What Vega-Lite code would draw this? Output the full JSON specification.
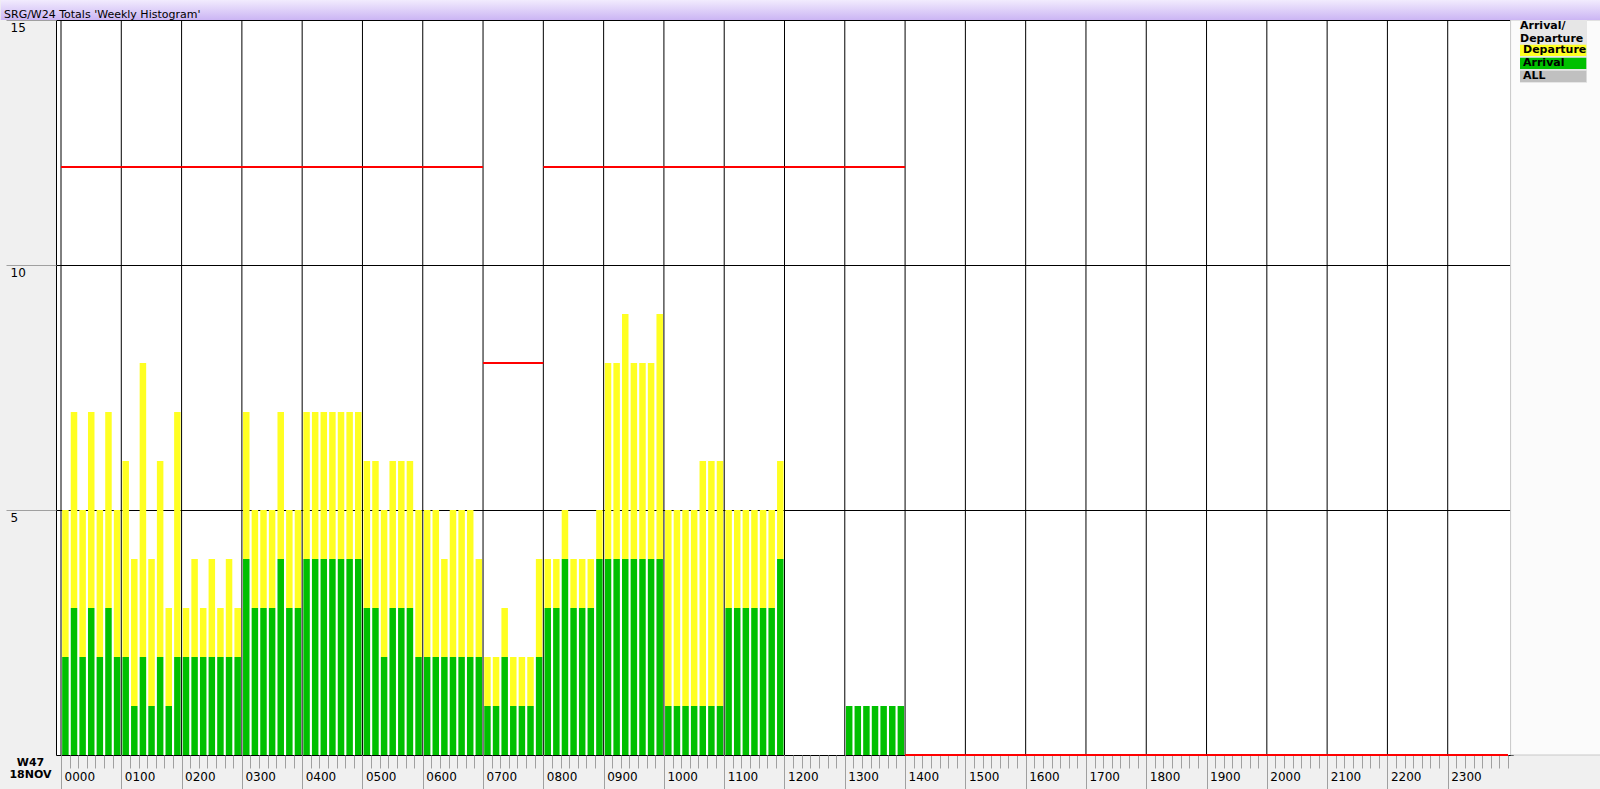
{
  "$schema": "https://vega.github.io/schema/vega-lite/v6.json",
  "width": 1457,
  "height": 735,
  "autosize": {"type": "none"},
  "padding": {"left": 56, "right": 87, "top": 20, "bottom": 34},
  "background": "#f0f0f0",
  "view": {"fill": "#ffffff", "stroke": "#000000", "strokeWidth": 1},
  "title": {
    "text": "SRG/W24 Totals 'Weekly Histogram'",
    "anchor": "start",
    "frame": "group",
    "orient": "top",
    "offset": 0,
    "dx": -52,
    "dy": 30,
    "baseline": "alphabetic",
    "font": "DejaVu Sans",
    "fontSize": 11,
    "fontWeight": "normal",
    "color": "#000000"
  },
  "config": {"font": "DejaVu Sans"},
  "datasets": {
    "bars": [
      {"slot": 0, "Arrival": 2, "Departure": 3},
      {"slot": 1, "Arrival": 3, "Departure": 4},
      {"slot": 2, "Arrival": 2, "Departure": 3},
      {"slot": 3, "Arrival": 3, "Departure": 4},
      {"slot": 4, "Arrival": 2, "Departure": 3},
      {"slot": 5, "Arrival": 3, "Departure": 4},
      {"slot": 6, "Arrival": 2, "Departure": 3},
      {"slot": 7, "Arrival": 2, "Departure": 4},
      {"slot": 8, "Arrival": 1, "Departure": 3},
      {"slot": 9, "Arrival": 2, "Departure": 6},
      {"slot": 10, "Arrival": 1, "Departure": 3},
      {"slot": 11, "Arrival": 2, "Departure": 4},
      {"slot": 12, "Arrival": 1, "Departure": 2},
      {"slot": 13, "Arrival": 2, "Departure": 5},
      {"slot": 14, "Arrival": 2, "Departure": 1},
      {"slot": 15, "Arrival": 2, "Departure": 2},
      {"slot": 16, "Arrival": 2, "Departure": 1},
      {"slot": 17, "Arrival": 2, "Departure": 2},
      {"slot": 18, "Arrival": 2, "Departure": 1},
      {"slot": 19, "Arrival": 2, "Departure": 2},
      {"slot": 20, "Arrival": 2, "Departure": 1},
      {"slot": 21, "Arrival": 4, "Departure": 3},
      {"slot": 22, "Arrival": 3, "Departure": 2},
      {"slot": 23, "Arrival": 3, "Departure": 2},
      {"slot": 24, "Arrival": 3, "Departure": 2},
      {"slot": 25, "Arrival": 4, "Departure": 3},
      {"slot": 26, "Arrival": 3, "Departure": 2},
      {"slot": 27, "Arrival": 3, "Departure": 2},
      {"slot": 28, "Arrival": 4, "Departure": 3},
      {"slot": 29, "Arrival": 4, "Departure": 3},
      {"slot": 30, "Arrival": 4, "Departure": 3},
      {"slot": 31, "Arrival": 4, "Departure": 3},
      {"slot": 32, "Arrival": 4, "Departure": 3},
      {"slot": 33, "Arrival": 4, "Departure": 3},
      {"slot": 34, "Arrival": 4, "Departure": 3},
      {"slot": 35, "Arrival": 3, "Departure": 3},
      {"slot": 36, "Arrival": 3, "Departure": 3},
      {"slot": 37, "Arrival": 2, "Departure": 3},
      {"slot": 38, "Arrival": 3, "Departure": 3},
      {"slot": 39, "Arrival": 3, "Departure": 3},
      {"slot": 40, "Arrival": 3, "Departure": 3},
      {"slot": 41, "Arrival": 2, "Departure": 3},
      {"slot": 42, "Arrival": 2, "Departure": 3},
      {"slot": 43, "Arrival": 2, "Departure": 3},
      {"slot": 44, "Arrival": 2, "Departure": 2},
      {"slot": 45, "Arrival": 2, "Departure": 3},
      {"slot": 46, "Arrival": 2, "Departure": 3},
      {"slot": 47, "Arrival": 2, "Departure": 3},
      {"slot": 48, "Arrival": 2, "Departure": 2},
      {"slot": 49, "Arrival": 1, "Departure": 1},
      {"slot": 50, "Arrival": 1, "Departure": 1},
      {"slot": 51, "Arrival": 2, "Departure": 1},
      {"slot": 52, "Arrival": 1, "Departure": 1},
      {"slot": 53, "Arrival": 1, "Departure": 1},
      {"slot": 54, "Arrival": 1, "Departure": 1},
      {"slot": 55, "Arrival": 2, "Departure": 2},
      {"slot": 56, "Arrival": 3, "Departure": 1},
      {"slot": 57, "Arrival": 3, "Departure": 1},
      {"slot": 58, "Arrival": 4, "Departure": 1},
      {"slot": 59, "Arrival": 3, "Departure": 1},
      {"slot": 60, "Arrival": 3, "Departure": 1},
      {"slot": 61, "Arrival": 3, "Departure": 1},
      {"slot": 62, "Arrival": 4, "Departure": 1},
      {"slot": 63, "Arrival": 4, "Departure": 4},
      {"slot": 64, "Arrival": 4, "Departure": 4},
      {"slot": 65, "Arrival": 4, "Departure": 5},
      {"slot": 66, "Arrival": 4, "Departure": 4},
      {"slot": 67, "Arrival": 4, "Departure": 4},
      {"slot": 68, "Arrival": 4, "Departure": 4},
      {"slot": 69, "Arrival": 4, "Departure": 5},
      {"slot": 70, "Arrival": 1, "Departure": 4},
      {"slot": 71, "Arrival": 1, "Departure": 4},
      {"slot": 72, "Arrival": 1, "Departure": 4},
      {"slot": 73, "Arrival": 1, "Departure": 4},
      {"slot": 74, "Arrival": 1, "Departure": 5},
      {"slot": 75, "Arrival": 1, "Departure": 5},
      {"slot": 76, "Arrival": 1, "Departure": 5},
      {"slot": 77, "Arrival": 3, "Departure": 2},
      {"slot": 78, "Arrival": 3, "Departure": 2},
      {"slot": 79, "Arrival": 3, "Departure": 2},
      {"slot": 80, "Arrival": 3, "Departure": 2},
      {"slot": 81, "Arrival": 3, "Departure": 2},
      {"slot": 82, "Arrival": 3, "Departure": 2},
      {"slot": 83, "Arrival": 4, "Departure": 2},
      {"slot": 91, "Arrival": 1, "Departure": 0},
      {"slot": 92, "Arrival": 1, "Departure": 0},
      {"slot": 93, "Arrival": 1, "Departure": 0},
      {"slot": 94, "Arrival": 1, "Departure": 0},
      {"slot": 95, "Arrival": 1, "Departure": 0},
      {"slot": 96, "Arrival": 1, "Departure": 0},
      {"slot": 97, "Arrival": 1, "Departure": 0}
    ],
    "hours": [
      {"hour": 0, "start": 0, "end": 7, "cap": 12},
      {"hour": 1, "start": 7, "end": 14, "cap": 12},
      {"hour": 2, "start": 14, "end": 21, "cap": 12},
      {"hour": 3, "start": 21, "end": 28, "cap": 12},
      {"hour": 4, "start": 28, "end": 35, "cap": 12},
      {"hour": 5, "start": 35, "end": 42, "cap": 12},
      {"hour": 6, "start": 42, "end": 49, "cap": 12},
      {"hour": 7, "start": 49, "end": 56, "cap": 8},
      {"hour": 8, "start": 56, "end": 63, "cap": 12},
      {"hour": 9, "start": 63, "end": 70, "cap": 12},
      {"hour": 10, "start": 70, "end": 77, "cap": 12},
      {"hour": 11, "start": 77, "end": 84, "cap": 12},
      {"hour": 12, "start": 84, "end": 91, "cap": 12},
      {"hour": 13, "start": 91, "end": 98, "cap": 12},
      {"hour": 14, "start": 98, "end": 105, "cap": 0},
      {"hour": 15, "start": 105, "end": 112, "cap": 0},
      {"hour": 16, "start": 112, "end": 119, "cap": 0},
      {"hour": 17, "start": 119, "end": 126, "cap": 0},
      {"hour": 18, "start": 126, "end": 133, "cap": 0},
      {"hour": 19, "start": 133, "end": 140, "cap": 0},
      {"hour": 20, "start": 140, "end": 147, "cap": 0},
      {"hour": 21, "start": 147, "end": 154, "cap": 0},
      {"hour": 22, "start": 154, "end": 161, "cap": 0},
      {"hour": 23, "start": 161, "end": 168, "cap": 0}
    ]
  },
  "resolve": {"axis": {"x": "independent"}},
  "layer": [
    {
      "data": {"name": "bars"},
      "transform": [{"fold": ["Arrival", "Departure"], "as": ["type", "count"]}],
      "mark": {"type": "bar", "orient": "vertical", "width": 6.5, "xOffset": 4.4},
      "encoding": {
        "x": {
          "field": "slot",
          "type": "quantitative",
          "scale": {"domain": [0, 168], "nice": false, "zero": false},
          "axis": {
            "orient": "bottom",
            "tickCount": 168,
            "labels": false,
            "tickSize": 13,
            "tickColor": "#a0a0a0",
            "domain": false,
            "grid": false,
            "title": null
          }
        },
        "y": {
          "field": "count",
          "type": "quantitative",
          "stack": "zero",
          "scale": {"domain": [0, 15], "nice": false},
          "title": ["W47", "18NOV"],
          "axis": {
            "values": [5, 10, 15],
            "grid": true,
            "gridColor": "#000000",
            "gridWidth": 1,
            "gridOpacity": 1,
            "domain": false,
            "ticks": true,
            "tickSize": 50,
            "tickColor": "#a0a0a0",
            "labelAlign": "left",
            "labelBaseline": "top",
            "labelPadding": -4,
            "labelOffset": 2,
            "labelFont": "DejaVu Sans",
            "labelFontSize": 12,
            "labelColor": "#000000",
            "labelFlush": false,
            "labelOverlap": false,
            "labelBound": false,
            "titleAngle": 0,
            "titleX": -26,
            "titleY": 742,
            "titleAlign": "center",
            "titleBaseline": "middle",
            "titleFont": "DejaVu Sans",
            "titleFontSize": 11,
            "titleFontWeight": "bold",
            "titleLineHeight": 12,
            "titleColor": "#000000"
          }
        },
        "color": {
          "field": "type",
          "type": "nominal",
          "scale": {"domain": ["Departure", "Arrival", "ALL"], "range": ["#ffff22", "#00c000", "#c0c0c0"]},
          "legend": {
            "orient": "none",
            "legendX": 1464,
            "legendY": 0,
            "title": ["Arrival/", "Departure\u00a0\u00a0\u00a0\u00a0"],
            "titleFont": "DejaVu Sans",
            "titleFontSize": 11,
            "titleFontWeight": "bold",
            "titleColor": "#000000",
            "titleLineHeight": 12.5,
            "titlePadding": 1,
            "titleLimit": 200,
            "padding": 0,
            "fillColor": "#e6e6e6",
            "symbolType": "M-1,-0.155H1V0.155H-1Z",
            "symbolSize": 5625,
            "symbolStrokeWidth": 0,
            "symbolOpacity": 1,
            "clipHeight": 11.6,
            "rowPadding": 0,
            "labelOffset": -72,
            "labelExpr": "datum.label + '\u00a0\u00a0\u00a0\u00a0'",
            "labelFont": "DejaVu Sans",
            "labelFontSize": 11,
            "labelFontWeight": "bold",
            "labelColor": "#000000",
            "labelLimit": 300
          }
        },
        "order": {"field": "type", "sort": "ascending"}
      }
    },
    {
      "data": {"name": "hours"},
      "mark": {"type": "rule", "color": "#000000", "strokeWidth": 1},
      "encoding": {
        "x": {
          "field": "start",
          "type": "quantitative",
          "scale": {"domain": [0, 168], "nice": false, "zero": false},
          "axis": {
            "orient": "bottom",
            "values": [0, 7, 14, 21, 28, 35, 42, 49, 56, 63, 70, 77, 84, 91, 98, 105, 112, 119, 126, 133, 140, 147, 154, 161],
            "labelExpr": "(datum.value / 7 < 10 ? '0' : '') + (datum.value / 7) + '00'",
            "labelAlign": "left",
            "labelBaseline": "top",
            "labelOffset": 3,
            "labelPadding": -18,
            "labelFont": "DejaVu Sans",
            "labelFontSize": 12,
            "labelColor": "#000000",
            "labelFlush": false,
            "labelOverlap": false,
            "labelBound": false,
            "tickSize": 34,
            "tickColor": "#a0a0a0",
            "domain": false,
            "grid": false,
            "title": null
          }
        }
      }
    },
    {
      "data": {"name": "hours"},
      "mark": {"type": "rule", "color": "#ff0000", "strokeWidth": 2},
      "encoding": {
        "x": {"field": "start", "type": "quantitative", "scale": {"domain": [0, 168], "nice": false, "zero": false}, "axis": null},
        "x2": {"field": "end"},
        "y": {"field": "cap", "type": "quantitative", "scale": {"domain": [0, 15], "nice": false}, "title": ["W47", "18NOV"]}
      }
    },
    {
      "data": {"values": [{"part": "right panel"}]},
      "mark": {"type": "rect", "clip": false, "color": "#fbfbfb", "stroke": "#c8c8c8", "strokeWidth": 1},
      "encoding": {
        "x": {"datum": 168.3, "type": "quantitative", "axis": null, "scale": {"domain": [0, 168], "nice": false, "zero": false}},
        "x2": {"datum": 180},
        "y": {"datum": 15, "type": "quantitative", "scale": {"domain": [0, 15], "nice": false}, "title": ["W47", "18NOV"]},
        "y2": {"datum": 0}
      }
    },
    {
      "data": {"values": [{"part": "title bar"}]},
      "mark": {
        "type": "rect",
        "clip": false,
        "color": {
          "gradient": "linear",
          "x1": 0, "y1": 0, "x2": 0, "y2": 1,
          "stops": [
            {"offset": 0, "color": "#f3edfe"},
            {"offset": 1, "color": "#cbb5f4"}
          ]
        }
      },
      "encoding": {
        "x": {"datum": -7, "type": "quantitative", "axis": null, "scale": {"domain": [0, 168], "nice": false, "zero": false}},
        "x2": {"datum": 180},
        "y": {"datum": 15.42, "type": "quantitative", "scale": {"domain": [0, 15], "nice": false}, "title": ["W47", "18NOV"]},
        "y2": {"datum": 15}
      }
    }
  ]
}
